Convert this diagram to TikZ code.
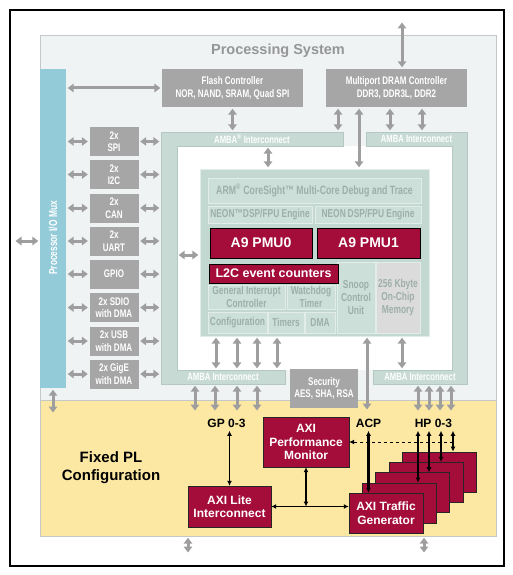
\documentclass[tikz,border=0pt]{standalone}
\usepackage{fontspec}
\setmainfont{Liberation Sans}
\newfontfamily\cond[FakeStretch=0.73]{Liberation Sans}
\usetikzlibrary{arrows.meta}

\definecolor{psgrey}{RGB}{239,243,243}
\definecolor{psedge}{RGB}{195,200,200}
\definecolor{plyellow}{RGB}{252,232,162}
\definecolor{muxblue}{RGB}{148,203,217}
\definecolor{boxgrey}{RGB}{166,166,166}
\definecolor{ambagreen}{RGB}{199,219,212}
\definecolor{ambaedge}{RGB}{178,200,193}
\definecolor{coregreen}{RGB}{195,216,209}
\definecolor{cellgreen}{RGB}{204,223,217}
\definecolor{celledge}{RGB}{226,236,233}
\definecolor{celltext}{RGB}{158,175,169}
\definecolor{memgrey}{RGB}{219,219,219}
\definecolor{pmred}{RGB}{164,12,58}
\definecolor{arrowgrey}{RGB}{158,158,158}
\definecolor{titlegrey}{RGB}{150,150,150}

\begin{document}
\begin{tikzpicture}[x=1pt,y=-1pt]
\tikzstyle{greybox} = [rectangle, fill=boxgrey, text=white, align=center, inner sep=0pt, font=\cond\bfseries\fontsize{11}{12.5}\selectfont]
\tikzstyle{periph} = [greybox, minimum width=49pt, minimum height=29pt]
\tikzstyle{ambatext} = [rectangle, inner sep=0pt, text=white, font=\cond\bfseries\fontsize{10.5}{12}\selectfont]
\tikzstyle{cell} = [rectangle, fill=cellgreen, draw=celledge, text=celltext, align=center, inner sep=0pt, font=\cond\bfseries\fontsize{11.5}{13}\selectfont]
\tikzstyle{pmu} = [rectangle, fill=pmred, draw=black, text=white, inner sep=0pt, font=\bfseries\fontsize{14}{16}\selectfont]
\tikzstyle{axi} = [rectangle, fill=pmred, draw=black!85, text=white, align=center, inner sep=0pt, font=\bfseries\fontsize{12}{13.5}\selectfont]
\tikzstyle{atg} = [axi, minimum width=74pt, minimum height=40pt]
\tikzstyle{pllabel} = [font=\bfseries\fontsize{12}{14}\selectfont]
\tikzstyle{garrow} = [draw=arrowgrey, line width=3pt, {Triangle[length=6pt,width=8.5pt]}-{Triangle[length=6pt,width=8.5pt]}, shorten <=1.5pt, shorten >=1.5pt]
\tikzstyle{barrow} = [draw=black, line width=1.3pt, {Latex[length=5pt,width=5pt]}-{Latex[length=5pt,width=5pt]}]
\tikzstyle{bigarrow} = [barrow, line width=2.4pt]
\tikzstyle{dasharrow} = [draw=black, line width=1pt, dashed, -{Latex[length=5pt,width=5pt]}]

\useasboundingbox (0,0) rectangle (512,575);
\draw[black, line width=1.5pt] (10,10) rectangle (504,566);

% processing system and PL
\node(ps) [rectangle, fill=psgrey, draw=psedge, minimum width=456pt, minimum height=501pt] at (268,285.5) {};
\node(pl) [rectangle, fill=plyellow, draw=psedge, minimum width=456pt, minimum height=136pt] at (268,468) {};
\node(pstitle) [font=\bfseries\fontsize{14.5}{16}\selectfont, text=titlegrey] at (278,51) {Processing System};
\fill[white] (177,146) rectangle (452,370);

% AMBA interconnect frames
\draw[fill=ambagreen, draw=ambaedge] (161,132) -- (343,132) -- (343,146) -- (177,146) -- (177,370) -- (285,370) -- (285,384) -- (161,384) -- cycle;
\draw[fill=ambagreen, draw=ambaedge] (366,132) -- (467,132) -- (467,384) -- (373,384) -- (373,370) -- (452,370) -- (452,146) -- (366,146) -- cycle;
\node(ambaTL) [ambatext, minimum width=182pt, minimum height=14pt] at (252,139) {AMBA\textsuperscript{®} Interconnect};
\node(ambaL) [ambatext, minimum width=16pt, minimum height=252pt] at (169,258) {};
\node(ambaBL) [ambatext, minimum width=124pt, minimum height=14pt] at (223,377) {AMBA Interconnect};
\node(ambaTR) [ambatext, minimum width=101pt, minimum height=14pt] at (416.5,139) {AMBA Interconnect};
\node(ambaR) [ambatext, minimum width=15pt, minimum height=252pt] at (459.5,258) {};
\node(ambaBR) [ambatext, minimum width=94pt, minimum height=14pt] at (420,377) {AMBA Interconnect};

% I/O mux and peripherals
\node(mux) [rectangle, fill=muxblue, minimum width=26pt, minimum height=319pt] at (53,228.5) {};
\node(muxlabel) [rotate=90, text=white, font=\cond\bfseries\fontsize{11.5}{13}\selectfont] at (53,238) {Processor I/O Mux};
\node(flash) [greybox, minimum width=141pt, minimum height=38pt] at (232.5,88) {Flash Controller\\NOR, NAND, SRAM, Quad SPI};
\node(dram) [greybox, minimum width=141pt, minimum height=38pt] at (396.5,88) {Multiport DRAM Controller\\DDR3, DDR3L, DDR2};
\node(spi) [periph] at (114,141.5) {2x\\SPI};
\node(i2c) [periph] at (114,174.5) {2x\\I2C};
\node(can) [periph] at (114,208) {2x\\CAN};
\node(uart) [periph] at (114,241) {2x\\UART};
\node(gpio) [periph] at (114,274) {GPIO};
\node(sdio) [periph] at (114,307.5) {2x SDIO\\with DMA};
\node(usb) [periph] at (114,341) {2x USB\\with DMA};
\node(gige) [periph] at (114,374) {2x GigE\\with DMA};
\node(security) [greybox, minimum width=68pt, minimum height=39pt] at (324,388.5) {Security\\AES, SHA, RSA};

% application processor unit
\node(core) [rectangle, fill=coregreen, draw=celledge, minimum width=229pt, minimum height=167pt] at (314.5,252.5) {};
\node(debug) [cell, minimum width=213pt, minimum height=25pt, font=\cond\bfseries\fontsize{12}{14}\selectfont] at (314.5,190.5) {ARM\textsuperscript{®} CoreSight™ Multi-Core Debug and Trace};
\node(neon0) [cell, minimum width=104pt, minimum height=17pt] at (260,214.5) {NEON™DSP/FPU Engine};
\node(neon1) [cell, minimum width=106pt, minimum height=17pt] at (368,214.5) {NEON\,DSP/FPU Engine};
\node(pmu0) [pmu, minimum width=102pt, minimum height=30pt] at (261,243) {A9 PMU0};
\node(pmu1) [pmu, minimum width=103pt, minimum height=30pt] at (368.5,243) {A9 PMU1};
\node(gic) [cell, minimum width=77pt, minimum height=24pt] at (246.5,297) {General Interrupt\\Controller};
\node(wdt) [cell, minimum width=48pt, minimum height=24pt] at (311,297) {Watchdog\\Timer};
\node(cfg) [cell, minimum width=59pt, minimum height=21pt] at (237.5,322.5) {Configuration};
\node(tmr) [cell, minimum width=36pt, minimum height=21pt] at (286,322.5) {Timers};
\node(dma) [cell, minimum width=30pt, minimum height=21pt] at (320,322.5) {DMA};
\node(scu) [cell, minimum width=38pt, minimum height=71pt] at (356,297.5) {Snoop\\Control\\Unit};
\node(ocm) [cell, fill=memgrey, minimum width=44pt, minimum height=71pt] at (398,297.5) {256 Kbyte\\On-Chip\\Memory};
\node(l2c) [pmu, minimum width=129pt, minimum height=19pt, font=\bfseries\fontsize{12.5}{14}\selectfont] at (273.5,273.5) {L2C event counters};

% grey connections
\coordinate (ioext) at (14,241);
\coordinate (muxdown) at (53,414);
\coordinate (ddrext) at (402,21);
\coordinate (acpbus) at (367,411);
\coordinate (gp1) at (195,412);
\coordinate (gp2) at (215,412);
\coordinate (gp3) at (237,412);
\coordinate (gp4) at (257,412);
\coordinate (hp1) at (418,412);
\coordinate (hp2) at (429,412);
\coordinate (hp3) at (440,412);
\coordinate (hp4) at (451,412);
\coordinate (plout1) at (188,554);
\coordinate (plout2) at (424,554);

\draw[garrow] (ioext) -- (mux.west |- ioext);
\draw[garrow] (mux.south) -- (muxdown);
\draw[garrow] (mux.east |- flash.west) -- (flash.west);
\draw[garrow] (mux.east |- spi.west) -- (spi.west);
\draw[garrow] (mux.east |- i2c.west) -- (i2c.west);
\draw[garrow] (mux.east |- can.west) -- (can.west);
\draw[garrow] (mux.east |- uart.west) -- (uart.west);
\draw[garrow] (mux.east |- gpio.west) -- (gpio.west);
\draw[garrow] (mux.east |- sdio.west) -- (sdio.west);
\draw[garrow] (mux.east |- usb.west) -- (usb.west);
\draw[garrow] (mux.east |- gige.west) -- (gige.west);
\draw[garrow] (spi.east) -- (ambaL.west |- spi.east);
\draw[garrow] (i2c.east) -- (ambaL.west |- i2c.east);
\draw[garrow] (can.east) -- (ambaL.west |- can.east);
\draw[garrow] (uart.east) -- (ambaL.west |- uart.east);
\draw[garrow] (gpio.east) -- (ambaL.west |- gpio.east);
\draw[garrow] (sdio.east) -- (ambaL.west |- sdio.east);
\draw[garrow] (usb.east) -- (ambaL.west |- usb.east);
\draw[garrow] (gige.east) -- (ambaL.west |- gige.east);
\draw[garrow] (ddrext) -- (dram.north -| ddrext);
\draw[garrow] (flash.south) -- (ambaTL.north -| flash.south);
\draw[garrow] (dram.south -| 338,0) -- (ambaTL.north -| 338,0);
\draw[garrow] (dram.south -| 359,0) -- (core.north -| 359,0);
\draw[garrow] (dram.south -| 390,0) -- (ambaTR.north -| 390,0);
\draw[garrow] (dram.south -| 422,0) -- (ambaTR.north -| 422,0);
\draw[garrow] (ambaTL.south -| 268,0) -- (core.north -| 268,0);
\draw[garrow] (ambaL.east |- 0,255) -- (core.west |- 0,255);
\draw[garrow] (core.south -| 216,0) -- (ambaBL.north -| 216,0);
\draw[garrow] (core.south -| 237,0) -- (ambaBL.north -| 237,0);
\draw[garrow] (core.south -| 257,0) -- (ambaBL.north -| 257,0);
\draw[garrow] (core.south -| 277,0) -- (ambaBL.north -| 277,0);
\draw[garrow] (core.south -| acpbus) -- (acpbus);
\draw[garrow] (core.south -| 402,0) -- (ambaBR.north -| 402,0);
\draw[garrow] (ambaBL.south -| gp1) -- (gp1);
\draw[garrow] (ambaBL.south -| gp2) -- (gp2);
\draw[garrow] (ambaBL.south -| gp3) -- (gp3);
\draw[garrow] (ambaBL.south -| gp4) -- (gp4);
\draw[garrow] (ambaBR.south -| hp1) -- (hp1);
\draw[garrow] (ambaBR.south -| hp2) -- (hp2);
\draw[garrow] (ambaBR.south -| hp3) -- (hp3);
\draw[garrow] (ambaBR.south -| hp4) -- (hp4);
\draw[garrow] (pl.south -| plout1) -- (plout1);
\draw[garrow] (pl.south -| plout2) -- (plout2);

% fixed PL configuration
\node(fixedpl) [font=\bfseries\fontsize{15}{18}\selectfont, align=center] at (111,468) {Fixed PL\\Configuration};
\node(gplabel) [pllabel] at (226.5,423) {GP 0-3};
\node(acplabel) [pllabel] at (368.5,423) {ACP};
\node(hplabel) [pllabel] at (433.5,423) {HP 0-3};
\node(perfmon) [axi, minimum width=86pt, minimum height=50pt] at (306,442) {AXI\\Performance\\Monitor};
\node(axilite) [axi, minimum width=83pt, minimum height=41pt] at (229.5,506.5) {AXI Lite\\Interconnect};
\node(atg4) [atg] at (439.2,471.8) {};
\node(atg3) [atg] at (425.9,482.1) {};
\node(atg2) [atg] at (412.6,492.4) {};
\node(atg1) [atg] at (399.3,502.7) {};
\node(atg0) [atg] at (386,513) {AXI Traffic\\Generator};

\draw[barrow] (axilite.north |- gplabel.south) -- (axilite.north);
\draw[bigarrow] (acplabel.south) -- (atg0.north -| acplabel.south);
\draw[bigarrow] (hplabel.south -| 418,0) -- (atg1.north -| 418,0);
\draw[bigarrow] (hplabel.south -| 429,0) -- (atg2.north -| 429,0);
\draw[bigarrow] (hplabel.south -| 441,0) -- (atg3.north -| 441,0);
\draw[bigarrow] (hplabel.south -| 453,0) -- (atg4.north -| 453,0);
\draw[dasharrow] (perfmon.east -| 453,0) -- (perfmon.east);
\draw[barrow] (perfmon.south) -- (perfmon.south |- axilite.east);
\draw[barrow] (axilite.east) -- (atg0.west |- axilite.east);
\end{tikzpicture}
\end{document}
